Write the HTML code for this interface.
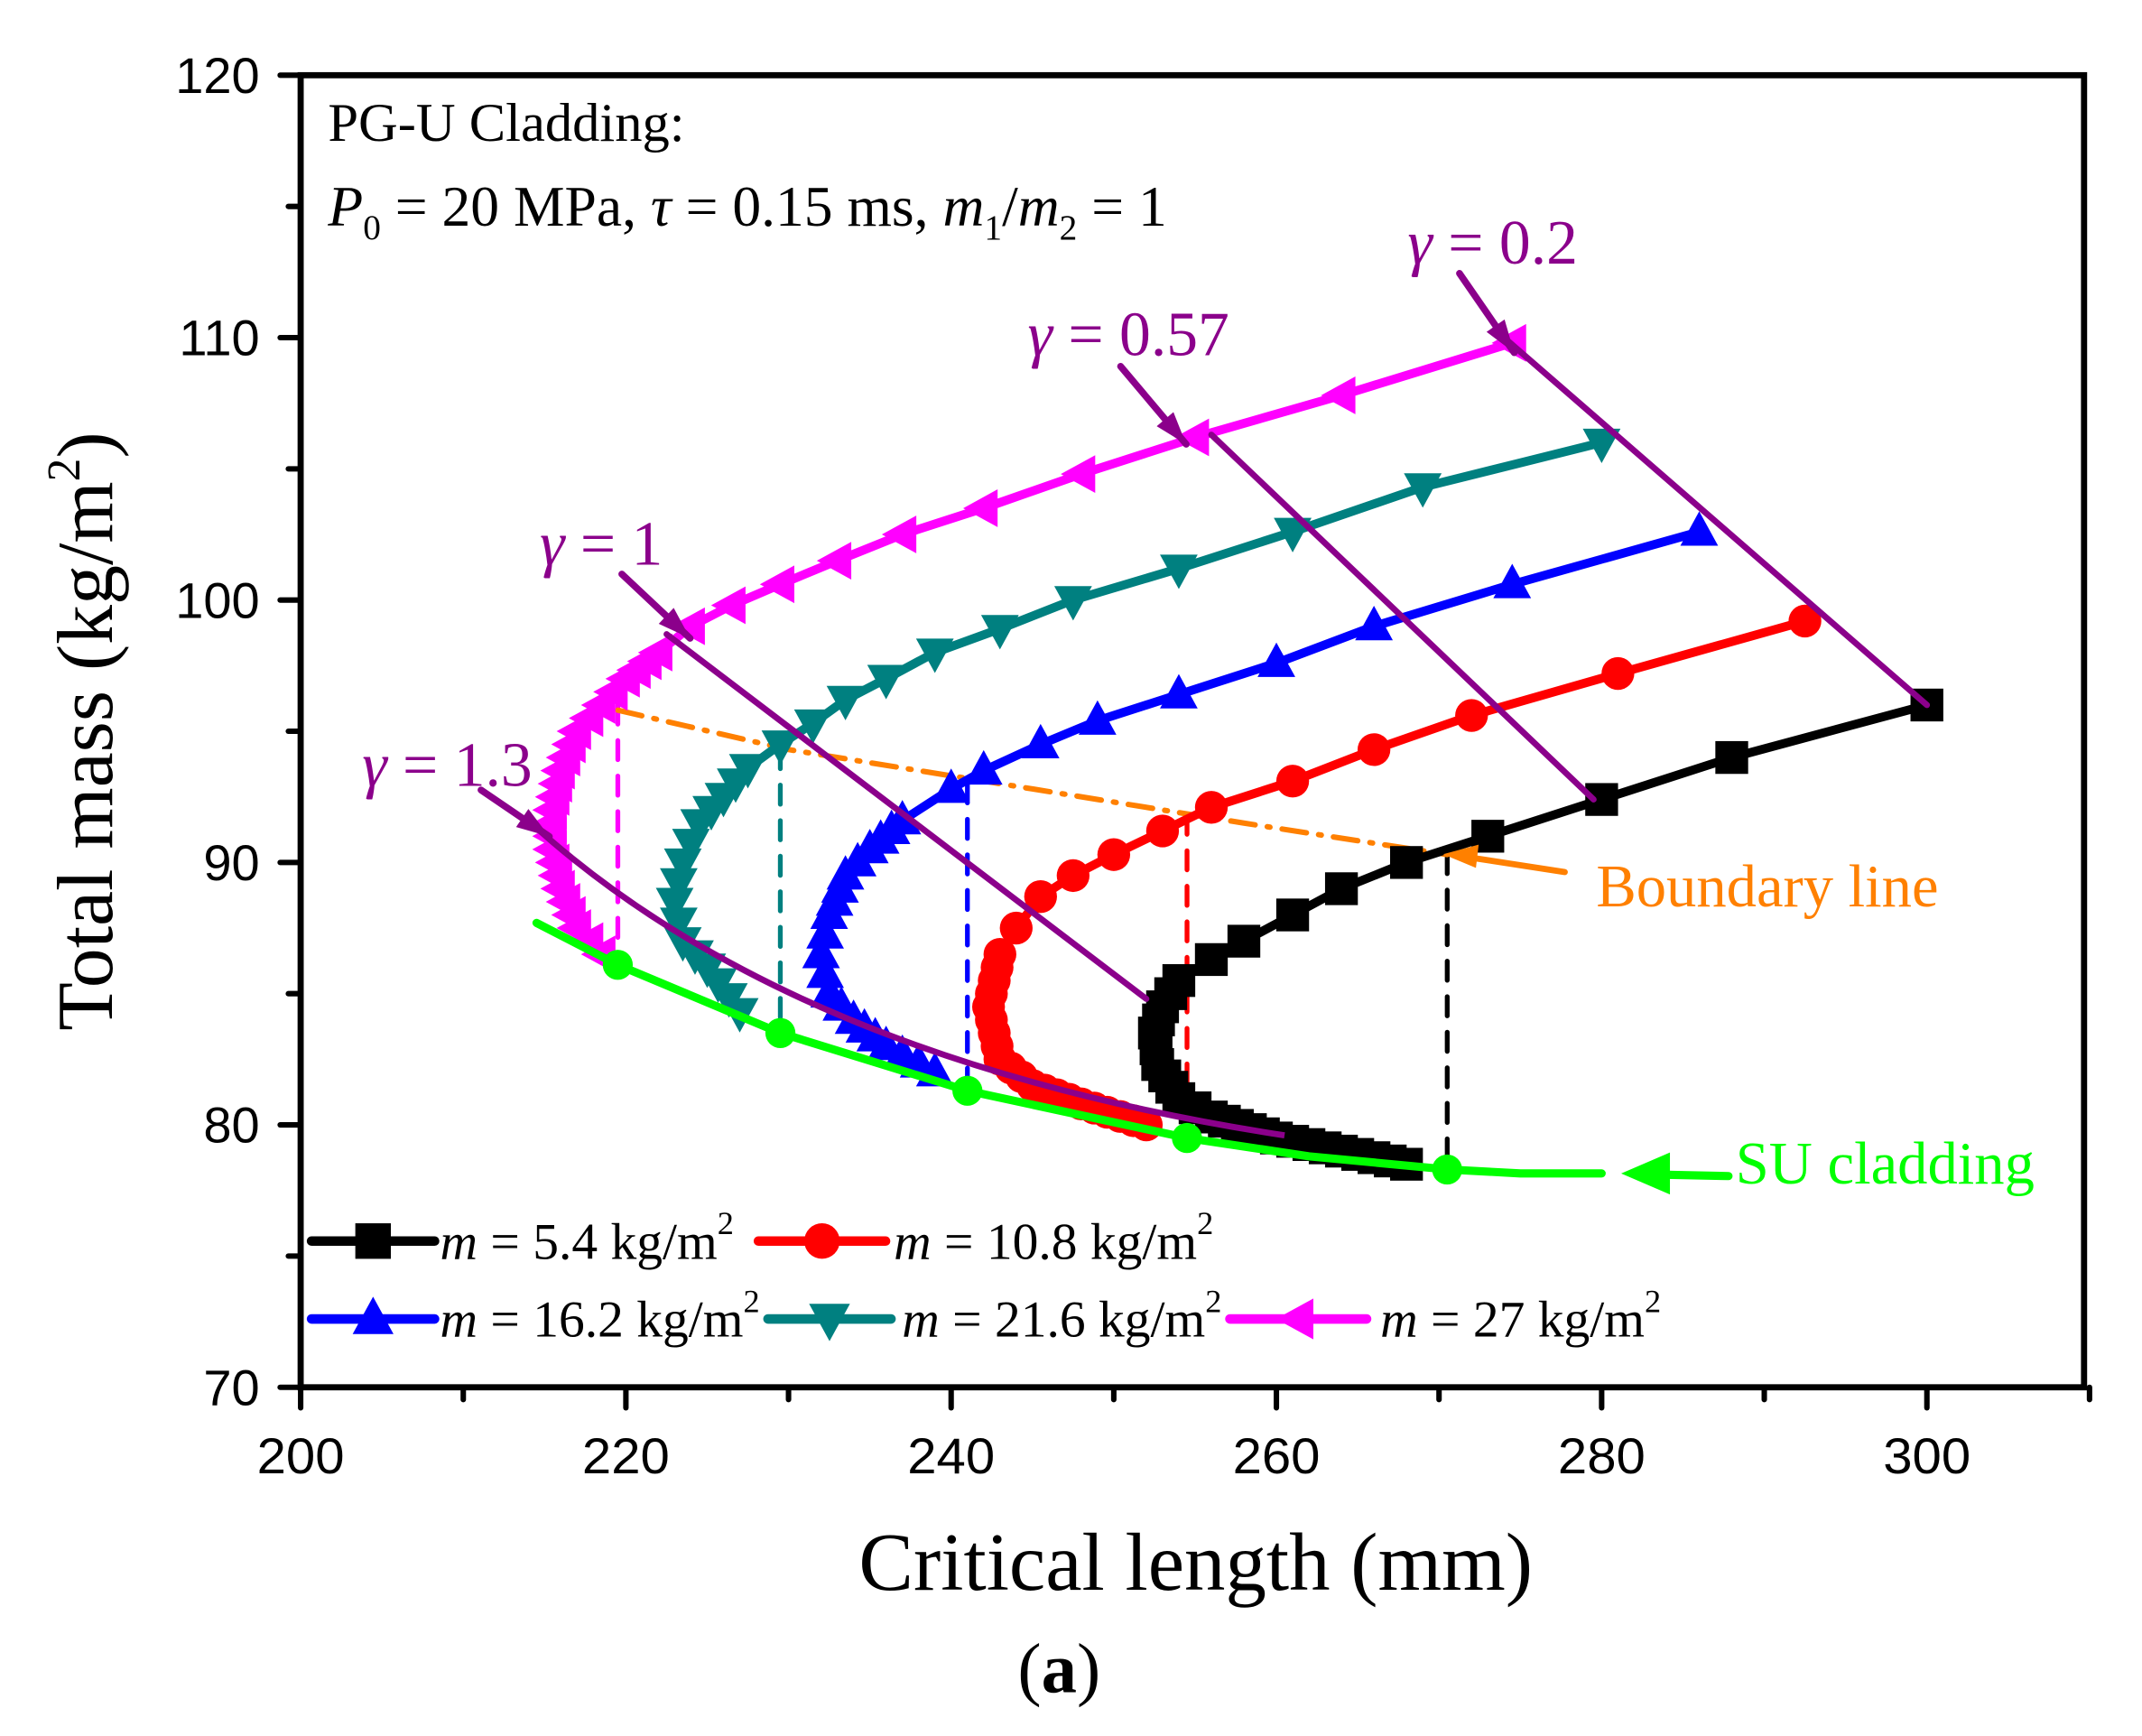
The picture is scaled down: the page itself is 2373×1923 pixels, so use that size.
<!DOCTYPE html>
<html><head><meta charset="utf-8"><style>
html,body{margin:0;padding:0;background:#fff;}
svg{display:block;}
text{font-family:"Liberation Serif",serif;}
.sans{font-family:"Liberation Sans",sans-serif;}
</style></head><body>
<svg id="s" width="2373" height="1923" viewBox="0 0 1567.4 1270.1" xmlns="http://www.w3.org/2000/svg"></svg>
<script>
const S=document.getElementById('s');let h='';
const X=v=>220+(v-200)*11.9, Y=v=>1015-(v-70)*19.2;
function pl(pts,c,w,extra=''){return `<polyline points="${pts.map(p=>X(p[0]).toFixed(1)+','+Y(p[1]).toFixed(1)).join(' ')}" fill="none" stroke="${c}" stroke-width="${w}" stroke-linejoin="round" stroke-linecap="round" ${extra}/>`;}
function mk(type,x,y,c,r=12){
 if(type=='sq')return `<rect x="${x-r}" y="${y-r}" width="${2*r}" height="${2*r}" fill="${c}"/>`;
 if(type=='ci')return `<circle cx="${x}" cy="${y}" r="${r}" fill="${c}"/>`;
 if(type=='up')return `<polygon points="${x},${y-r*1.25} ${x-r*1.15},${y+r*0.85} ${x+r*1.15},${y+r*0.85}" fill="${c}"/>`;
 if(type=='dn')return `<polygon points="${x},${y+r*1.25} ${x-r*1.15},${y-r*0.85} ${x+r*1.15},${y-r*0.85}" fill="${c}"/>`;
 if(type=='lf')return `<polygon points="${x-r*1.25},${y} ${x+r*0.85},${y-r*1.15} ${x+r*0.85},${y+r*1.15}" fill="${c}"/>`;
}
function series(pts,c,type,thr,step){
 h+=pl(pts,c,6.5);
 let P=pts.map(p=>[X(p[0]),Y(p[1])]);
 let out=[P[0]];
 for(let i=1;i<P.length;i++){
  let a=P[i-1],b=P[i];
  if((a[1]+b[1])/2>thr){
   let L=Math.hypot(b[0]-a[0],b[1]-a[1]);let n=Math.max(1,Math.round(L/step));
   for(let k=1;k<=n;k++)out.push([a[0]+(b[0]-a[0])*k/n,a[1]+(b[1]-a[1])*k/n]);
  } else out.push(b);
 }
 out.forEach(p=>h+=mk(type,p[0],p[1],c));
}
const blk=[[300,96],[288,94],[280,92.4],[273,91],[268,90],[264,89],[261,88],[258,87],[256,86.3],[254,85.5],[253,84.5],[252.5,83.5],[252.7,82.3],[254,81],[256,80.3],[260,79.5],[264,79],[268,78.5]];
const red=[[292.5,99.2],[281,97.2],[272,95.6],[266,94.3],[261,93.1],[256,92.1],[253,91.2],[250,90.3],[247.5,89.5],[245.5,88.7],[244,87.5],[243,86.5],[242.3,84.5],[243,82.5],[245,81.5],[248,80.8],[252,80]];
const blu=[[286,102.6],[274.5,100.6],[266,99],[260,97.6],[254,96.4],[249,95.4],[245.5,94.5],[242,93.5],[240,92.8],[237,91.6],[235,90.5],[233.5,89.5],[232.5,88],[232,86.5],[232.5,85],[234,84],[236,83],[239,82]];
const tea=[[280,106],[269,104.3],[261,102.6],[254,101.2],[247.5,100],[243,98.9],[239,98],[236,97],[233.5,96.2],[231.5,95.3],[229.5,94.5],[227.5,93.6],[226,92.5],[224.5,91.5],[223.5,90],[223,88.5],[223.5,87],[225,86],[227,84.3]];
const mag=[[274.5,109.8],[264,107.8],[255,106.2],[248,104.8],[242,103.5],[237,102.5],[233,101.5],[229.5,100.6],[226.5,99.8],[224,99],[222,98],[220,97],[218.5,96],[217,95],[216,93.5],[215.5,92],[215.5,90.5],[216,89],[217,87.5],[218.5,86.5]];
[[219.5,96,86.1,'#ff00ff'],[229.5,94.3,83.5,'#008080'],[241,93,81.3,'#0000ff'],[254.5,91.8,79.5,'#ff0000'],[270.5,90.3,78.3,'#000']].forEach(d=>h+=pl([[d[0],d[1]],[d[0],d[2]]],d[3],3.5,'stroke-dasharray="14 12"'));
h+=pl([[219.5,95.8],[230,94.3],[245,92.8],[258,91.5],[270.5,90.3]],'#ff8000',4,'stroke-dasharray="18 9 2 9"');
series(blk,'#000','sq',720,11);
series(red,'#ff0000','ci',690,10);
series(blu,'#0000ff','up',600,12);
series(tea,'#008080','dn',560,13);
series(mag,'#ff00ff','lf',470,11);
h+=pl([[214.5,87.7],[219.5,86.1],[229.5,83.5],[241,81.3],[254.5,79.5],[262,78.8],[270.5,78.3],[275,78.15],[280,78.15]],'#00ff00',6);
[[219.5,86.1],[229.5,83.5],[241,81.3],[254.5,79.5],[270.5,78.3]].forEach(p=>h+=mk('ci',X(p[0]),Y(p[1]),'#00ff00',11));
h+=`<line x1="${X(284)}" y1="${Y(78.1)}" x2="${X(287.8)}" y2="${Y(78.05)}" stroke="#00ff00" stroke-width="6" stroke-linecap="round"/>`;
h+=`<polygon points="${X(281.2)},${Y(78.15)} ${X(284.2)},${Y(77.35)} ${X(284.2)},${Y(78.95)}" fill="#00ff00"/>`;
const pu='#8b008b';
function arr(s,e){
 h+=`<line x1="${s[0]}" y1="${s[1]}" x2="${e[0]}" y2="${e[1]}" stroke="${pu}" stroke-width="5" stroke-linecap="round"/>`;
 let dx=e[0]-s[0],dy=e[1]-s[1],L=Math.hypot(dx,dy);dx/=L;dy/=L;
 let bx=e[0]-dx*24,by=e[1]-dy*24;
 h+=`<polygon points="${e[0]},${e[1]} ${bx-dy*8},${by+dx*8} ${bx+dy*8},${by-dx*8}" fill="${pu}"/>`;
}
h+=pl([[274,110],[300,96]],pu,4.5);arr([1068,200],[1108,258]);
h+=pl([[256,106.3],[279.5,92.4]],pu,4.5);arr([820,268],[868,325]);
h+=pl([[222.5,98.7],[252,84.8]],pu,4.5);arr([455,420],[505,467]);
h+=`<path d="M ${X(214)} ${Y(91.6)} Q ${X(230)} ${Y(82.5)} ${X(260.5)} ${Y(79.6)}" fill="none" stroke="${pu}" stroke-width="4.5"/>`;
arr([352,578],[402,612]);
h+=`<line x1="1145" y1="638" x2="1080" y2="628" stroke="#ff8000" stroke-width="4.5" stroke-linecap="round"/><polygon points="1056,625 1082,618 1080,635" fill="#ff8000"/>`;
h+=`<rect x="220" y="55" width="1305" height="960" fill="none" stroke="#000" stroke-width="4.5"/>`;
for(let v=200;v<=310;v+=10){let x=X(v),maj=v%20==0;h+=`<line x1="${x}" y1="1015" x2="${x}" y2="${1015+(maj?15:9)}" stroke="#000" stroke-width="4" stroke-linecap="round"/>`;
 if(maj&&v<=300)h+=`<text class="sans" x="${x}" y="1078" font-size="37" text-anchor="middle" textLength="64" lengthAdjust="spacingAndGlyphs">${v}</text>`;}
for(let v=70;v<=120;v+=5){let y=Y(v),maj=v%10==0;h+=`<line x1="${220-(maj?15:9)}" y1="${y}" x2="220" y2="${y}" stroke="#000" stroke-width="4" stroke-linecap="round"/>`;
 if(maj)h+=`<text class="sans" x="190" y="${y+13}" font-size="37" text-anchor="end">${v}</text>`;}
h+=`<text x="240" y="103" font-size="40">PG-U Cladding:</text>`;
h+=`<text x="240" y="165" font-size="42"><tspan font-style="italic">P</tspan><tspan font-size="26" dy="10">0</tspan><tspan dy="-10"> = 20 MPa, </tspan><tspan font-style="italic">τ</tspan> = 0.15 ms, <tspan font-style="italic">m</tspan><tspan font-size="26" dy="10">1</tspan><tspan dy="-10">/</tspan><tspan font-style="italic">m</tspan><tspan font-size="26" dy="10">2</tspan><tspan dy="-10"> = 1</tspan></text>`;
const gt=(x,y,s)=>h+=`<text x="${x}" y="${y}" font-size="46" fill="${pu}"><tspan font-style="italic">γ</tspan> = ${s}</text>`;
gt(1030,193,'0.2');gt(752,260,'0.57');gt(395,413,'1');gt(265,575,'1.3');
h+=`<text x="1168" y="663" font-size="44" fill="#ff8000">Boundary line</text>`;
h+=`<text x="1270" y="866" font-size="44" fill="#00ff00">SU cladding</text>`;
function lg(x1,x2,y,c,t,tx,lab){h+=`<line x1="${x1}" y1="${y}" x2="${x2}" y2="${y}" stroke="${c}" stroke-width="7" stroke-linecap="round"/>`+mk(t,(x1+x2)/2,y,c,13);
 h+=`<text x="${tx}" y="${y+13}" font-size="38"><tspan font-style="italic">m</tspan> = ${lab} kg/m<tspan font-size="24" dy="-18">2</tspan></text>`;}
lg(228,318,908,'#000','sq',322,'5.4');lg(555,648,908,'#ff0000','ci',654,'10.8');
lg(228,318,965,'#0000ff','up',322,'16.2');lg(562,652,965,'#008080','dn',660,'21.6');lg(900,1000,965,'#ff00ff','lf',1010,'27');
h+=`<text transform="translate(82,535) rotate(-90)" font-size="58" text-anchor="middle">Total mass (kg/m<tspan font-size="34" dy="-24">2</tspan><tspan dy="24">)</tspan></text>`;
h+=`<text x="875" y="1163" font-size="60" text-anchor="middle">Critical length (mm)</text>`;
h+=`<text x="775" y="1238" font-size="52" text-anchor="middle">(<tspan font-weight="bold">a</tspan>)</text>`;
S.innerHTML=h;
</script>
</body></html>
